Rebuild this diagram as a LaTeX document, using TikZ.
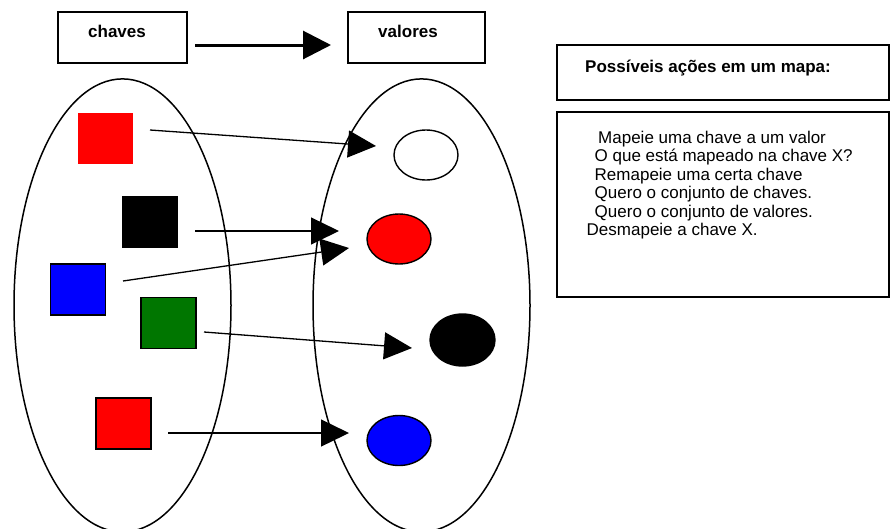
\documentclass[tikz,border=0pt]{standalone}
\usepackage{fontspec}
\setmainfont{Liberation Sans}
\usetikzlibrary{arrows.meta,shapes.geometric}
\begin{document}
\begin{tikzpicture}[x=1pt,y=-1pt,
  setshape/.style={draw,ellipse,line width=1.5pt,minimum width=217pt,minimum height=453pt,inner sep=0pt},
  keysq/.style={rectangle,minimum width=55pt,minimum height=51pt,inner sep=0pt,draw=black,line width=1.3pt},
  valel/.style={ellipse,draw=black,line width=1.4pt,minimum width=64pt,minimum height=50pt,inner sep=0pt},
  conn/.style={line width=1.3pt,-{Triangle[length=28pt,width=27pt]}},
  lbl/.style={font=\fontsize{17}{20}\selectfont,inner sep=0pt},
  boldlbl/.style={font=\fontsize{17}{20}\selectfont\bfseries,inner sep=0pt},
  framebox/.style={draw,line width=1.6pt,inner sep=0pt,rectangle}]
\useasboundingbox (0,0) rectangle (890,528);

% top boxes
\node[framebox,minimum width=129pt,minimum height=51pt] (kbox) at (122.5,37.5) {};
\node[boldlbl,anchor=base] (ktext) at (117,37) {chaves};
\node[framebox,minimum width=137pt,minimum height=51pt] (vbox) at (416.5,37.5) {};
\node[boldlbl,anchor=base] (vtext) at (408,37) {valores};
\coordinate (ts) at (195,45);
\coordinate (te) at (331,45);
\draw[line width=3pt,-{Triangle[length=28pt,width=28pt]}] (ts) -- (te);

% sets
\node[setshape] (kset) at (122.5,305.4) {};
\node[setshape] (vset) at (421.5,305.4) {};

% keys
\node[keysq,fill=red,draw=none] (r1) at (105,138) {};
\node[keysq,fill=black] (bk) at (150.3,222) {};
\node[keysq,fill=blue] (bl) at (78,289.5) {};
\node[keysq,fill={rgb,255:red,0;green,118;blue,0}] (gr) at (168.5,323) {};
\node[keysq,fill=red] (r2) at (123.5,423.5) {};

% values
\node[valel,fill=white] (cw) at (426,155) {};
\node[valel,fill=red] (cr) at (399,239) {};
\node[valel,fill=black,minimum width=65pt,minimum height=52pt] (ck) at (462.5,340) {};
\node[valel,fill=blue] (cb) at (399,440.5) {};

% connectors
\coordinate (a1s) at (150,130); \coordinate (a1e) at (376,146);
\coordinate (a2s) at (195,231); \coordinate (a2e) at (339,231);
\coordinate (a3s) at (123,281); \coordinate (a3e) at (349,248);
\coordinate (a4s) at (204,332); \coordinate (a4e) at (412,348);
\coordinate (a5s) at (168,433); \coordinate (a5e) at (349,433);
\draw[conn] (a1s) -- (a1e);
\draw[conn] (a2s) -- (a2e);
\draw[conn] (a3s) -- (a3e);
\draw[conn] (a4s) -- (a4e);
\draw[conn] (a5s) -- (a5e);

% right boxes
\node[framebox,minimum width=332pt,minimum height=55pt] (abox) at (723,72.5) {};
\node[boldlbl,anchor=base west] (atitle) at (585,72) {Possíveis ações em um mapa:};
\node[framebox,minimum width=332pt,minimum height=185pt] (lbox) at (723,204.5) {};
\node[lbl,anchor=base west] (l1) at (598,143) {Mapeie uma chave a um valor};
\node[lbl,anchor=base west] (l2) at (594.5,161.5) {O que está mapeado na chave X?};
\node[lbl,anchor=base west] (l3) at (594.5,180) {Remapeie uma certa chave};
\node[lbl,anchor=base west] (l4) at (594.5,198.5) {Quero o conjunto de chaves.};
\node[lbl,anchor=base west] (l5) at (594.5,217) {Quero o conjunto de valores.};
\node[lbl,anchor=base west] (l6) at (586.5,235.5) {Desmapeie a chave X.};
\end{tikzpicture}
\end{document}
